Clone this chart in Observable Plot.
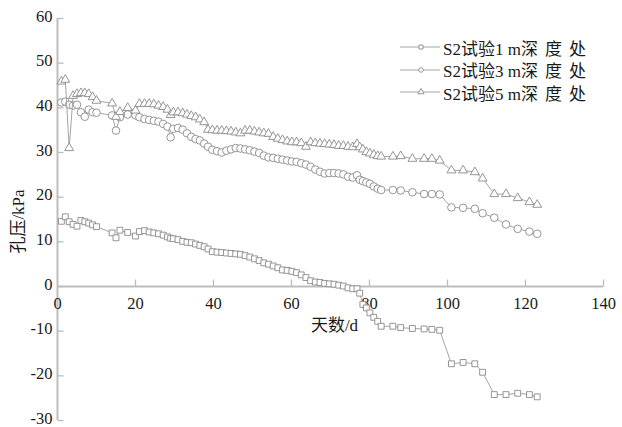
<!DOCTYPE html>
<html><head><meta charset="utf-8">
<script src="https://cdn.jsdelivr.net/npm/d3@7"></script>
<script src="https://cdn.jsdelivr.net/npm/@observablehq/plot@0.6"></script>
<style>
body{margin:0;background:#fff;}
#wrap{position:relative;width:622px;height:427px;font-family:'Liberation Serif','Noto Sans CJK SC',serif;}
#legend{position:absolute;left:398px;top:36px;font-size:17px;color:#1a1a1a;}
.row{display:flex;align-items:center;height:22.5px;white-space:pre;}
.row svg{margin-right:1px;}
.cjk{letter-spacing:7px;}
</style>
</head><body>
<div id="wrap"><div id="legend"></div></div>
<script>
const seriesNames = ["S2试验1 m深度处", "S2试验3 m深度处", "S2试验5 m深度处"];
const xLabel = "天数/d";
const yLabel = "孔压/kPa";
const xTicks = [0, 20, 40, 60, 80, 100, 120, 140];
const yTicks = [-30, -20, -10, 0, 10, 20, 30, 40, 50, 60];

const days = [1,2,3,4,5,6,7,8,9,10,14,15,16,18,20,21,
 22.3,23.5,24.7,25.9,27.1,28.2,29,29.7,30.9,32.1,33.2,34.3,35.4,36.5,37.6,38.6,39.7,40.9,42.1,43.3,44.5,45.7,46.9,48.1,49.3,50.5,51.7,52.9,54.1,55.3,56.5,57.7,58.9,60.1,61.3,62.5,63.7,64.9,66.1,67.3,68.5,69.7,70.9,72.1,73.3,74.5,75.7,76.8,77.5,78.3,79.2,80.1,81.1,82.1,83,
 86,88,91,94,96,98,101,104,107,109,112,115,118,121,123];

const depth1m = [14.6,15.6,14.5,13.9,13.5,14.8,14.5,14.2,13.8,13.4,12.0,10.9,12.6,12.1,11.3,12.3,
 12.5,12.2,12.0,11.8,11.5,11.1,10.8,10.7,10.5,10.1,9.9,9.8,9.5,9.2,8.9,8.4,7.8,7.7,7.6,7.5,7.4,7.3,7.2,6.9,6.6,6.2,5.8,5.3,5.0,4.6,4.2,3.7,3.6,3.4,3.1,2.6,2.0,1.3,1.0,0.9,0.7,0.6,0.5,0.3,0.1,-0.3,-0.5,-0.5,-1.5,-4.0,-4.8,-5.9,-6.9,-7.8,-8.9,
 -8.9,-9.2,-9.4,-9.5,-9.6,-9.8,-17.3,-17.0,-17.3,-19.2,-24.2,-24.2,-23.9,-24.2,-24.7];

const depth3m = [41.2,41.4,40.7,40.5,40.7,39.0,38.0,39.6,39.0,38.9,38.3,34.9,37.9,38.5,38.3,37.9,
 37.5,37.3,37.1,36.9,36.4,35.8,33.4,35.3,35.5,35.1,34.3,33.5,33.0,32.7,32.0,31.3,30.6,30.3,30.0,30.4,30.7,31.0,30.9,30.7,30.5,30.2,29.9,29.3,28.9,28.8,28.6,28.4,28.2,28.0,27.9,27.6,27.3,26.8,26.2,25.7,25.3,25.4,25.4,25.3,25.1,24.6,24.4,24.9,23.9,23.6,23.3,23.0,22.4,21.9,21.6,
 21.6,21.5,21.1,20.7,20.7,20.6,17.7,17.6,17.4,16.4,15.4,13.9,12.9,12.3,11.8];

const depth5m = [45.9,46.3,31.0,42.7,43.1,43.3,43.3,43.1,42.4,41.6,41.0,38.0,39.1,40.0,39.4,40.9,
 40.9,40.9,40.8,40.5,40.2,39.6,38.4,39.0,39.0,38.8,38.5,38.2,37.9,37.4,36.8,35.1,35.0,34.9,34.9,34.8,34.7,34.5,34.3,34.9,34.9,34.7,34.5,34.3,34.2,33.5,33.1,32.8,32.5,32.3,32.3,32.1,31.3,32.3,32.1,32.0,31.9,31.8,31.7,31.5,31.5,31.3,31.2,31.9,31.2,30.7,30.1,29.8,29.5,29.2,29.1,
 29.1,29.2,28.6,28.6,28.6,28.2,26.0,26.0,25.6,24.2,20.7,20.7,19.8,18.9,18.3];

const values = [depth1m, depth3m, depth5m];
const symbols = ["square", "circle", "triangle"];
const radii = [3.3, 3.8, 3.3];
const lineColor = "#9a9a9a";
const markColor = "#8a8a8a";
const axisColor = "#bdbdbd";
const textColor = "#1a1a1a";
const font = "'Liberation Serif','Noto Sans CJK SC',serif";

const tickRight = {draw(ctx){ ctx.moveTo(0, 0); ctx.lineTo(6, 0); }};
const tickUp = {draw(ctx){ ctx.moveTo(0, 0); ctx.lineTo(0, -7); }};

const seriesData = values.map((vals, s) => days.map((d, i) => ({day: d, value: vals[i], series: seriesNames[s]})));

const marks = [
  Plot.ruleX([0], {stroke: axisColor, strokeWidth: 2}),
  Plot.ruleY([0], {stroke: axisColor, strokeWidth: 2}),
  Plot.dot(yTicks, {x: () => 0, y: d => d, symbol: tickRight, stroke: axisColor, strokeWidth: 1.3, fill: "none"}),
  Plot.dot(xTicks.filter(d => d !== 0), {x: d => d, y: () => 0, symbol: tickUp, stroke: axisColor, strokeWidth: 1.3, fill: "none"}),
  Plot.text(yTicks, {x: () => 0, y: d => d, text: d => String(d), textAnchor: "end", dx: -5, dy: -2, fontSize: 16.5, fill: textColor, fontFamily: font}),
  Plot.text(xTicks, {x: d => d, y: () => 0, text: d => String(d), dy: 17, fontSize: 16.5, fill: textColor, fontFamily: font}),
  Plot.text([xLabel], {frameAnchor: "top-left", textAnchor: "middle", lineAnchor: "middle", dx: 277, dy: 307, text: d => d, fontSize: 17, fill: textColor, fontFamily: font}),
  Plot.text([yLabel], {frameAnchor: "top-left", textAnchor: "middle", lineAnchor: "middle", dx: -39, dy: 203, rotate: -90, text: d => d, fontSize: 17, fill: textColor, fontFamily: font})
];
seriesData.forEach((data, s) => {
  marks.push(Plot.line(data, {x: "day", y: "value", stroke: lineColor, strokeWidth: 0.9}));
  marks.push(Plot.dot(data, {x: "day", y: "value", symbol: symbols[s], r: radii[s], fill: "white", stroke: markColor, strokeWidth: 0.9}));
});

const chart = Plot.plot({
  width: 622, height: 427,
  marginLeft: 57, marginRight: 19, marginTop: 18, marginBottom: 7,
  x: {domain: [0, 140], axis: null},
  y: {domain: [-30, 60], axis: null},
  style: {fontFamily: font, background: "white", overflow: "visible"},
  marks
});
document.getElementById("wrap").prepend(chart);

const legend = document.getElementById("legend");
seriesNames.forEach((name, s) => {
  const row = document.createElement("div");
  row.className = "row";
  const svg = d3.create("svg").attr("width", 44).attr("height", 22);
  svg.append("line").attr("x1", 2).attr("x2", 42).attr("y1", 11).attr("y2", 11).attr("stroke", lineColor).attr("stroke-width", 0.9);
  const sym = [d3.symbolSquare, d3.symbolCircle, d3.symbolTriangle][s];
  svg.append("path").attr("d", d3.symbol(sym, 16)()).attr("transform", "translate(23,11)").attr("fill", "white").attr("stroke", markColor).attr("stroke-width", 0.9);
  row.appendChild(svg.node());
  const cut = name.indexOf("m") + 1;
  const a = document.createElement("span");
  a.textContent = name.slice(0, cut);
  const b = document.createElement("span");
  b.className = "cjk";
  b.textContent = name.slice(cut);
  row.appendChild(a);
  row.appendChild(b);
  legend.appendChild(row);
});
</script>
</body></html>
